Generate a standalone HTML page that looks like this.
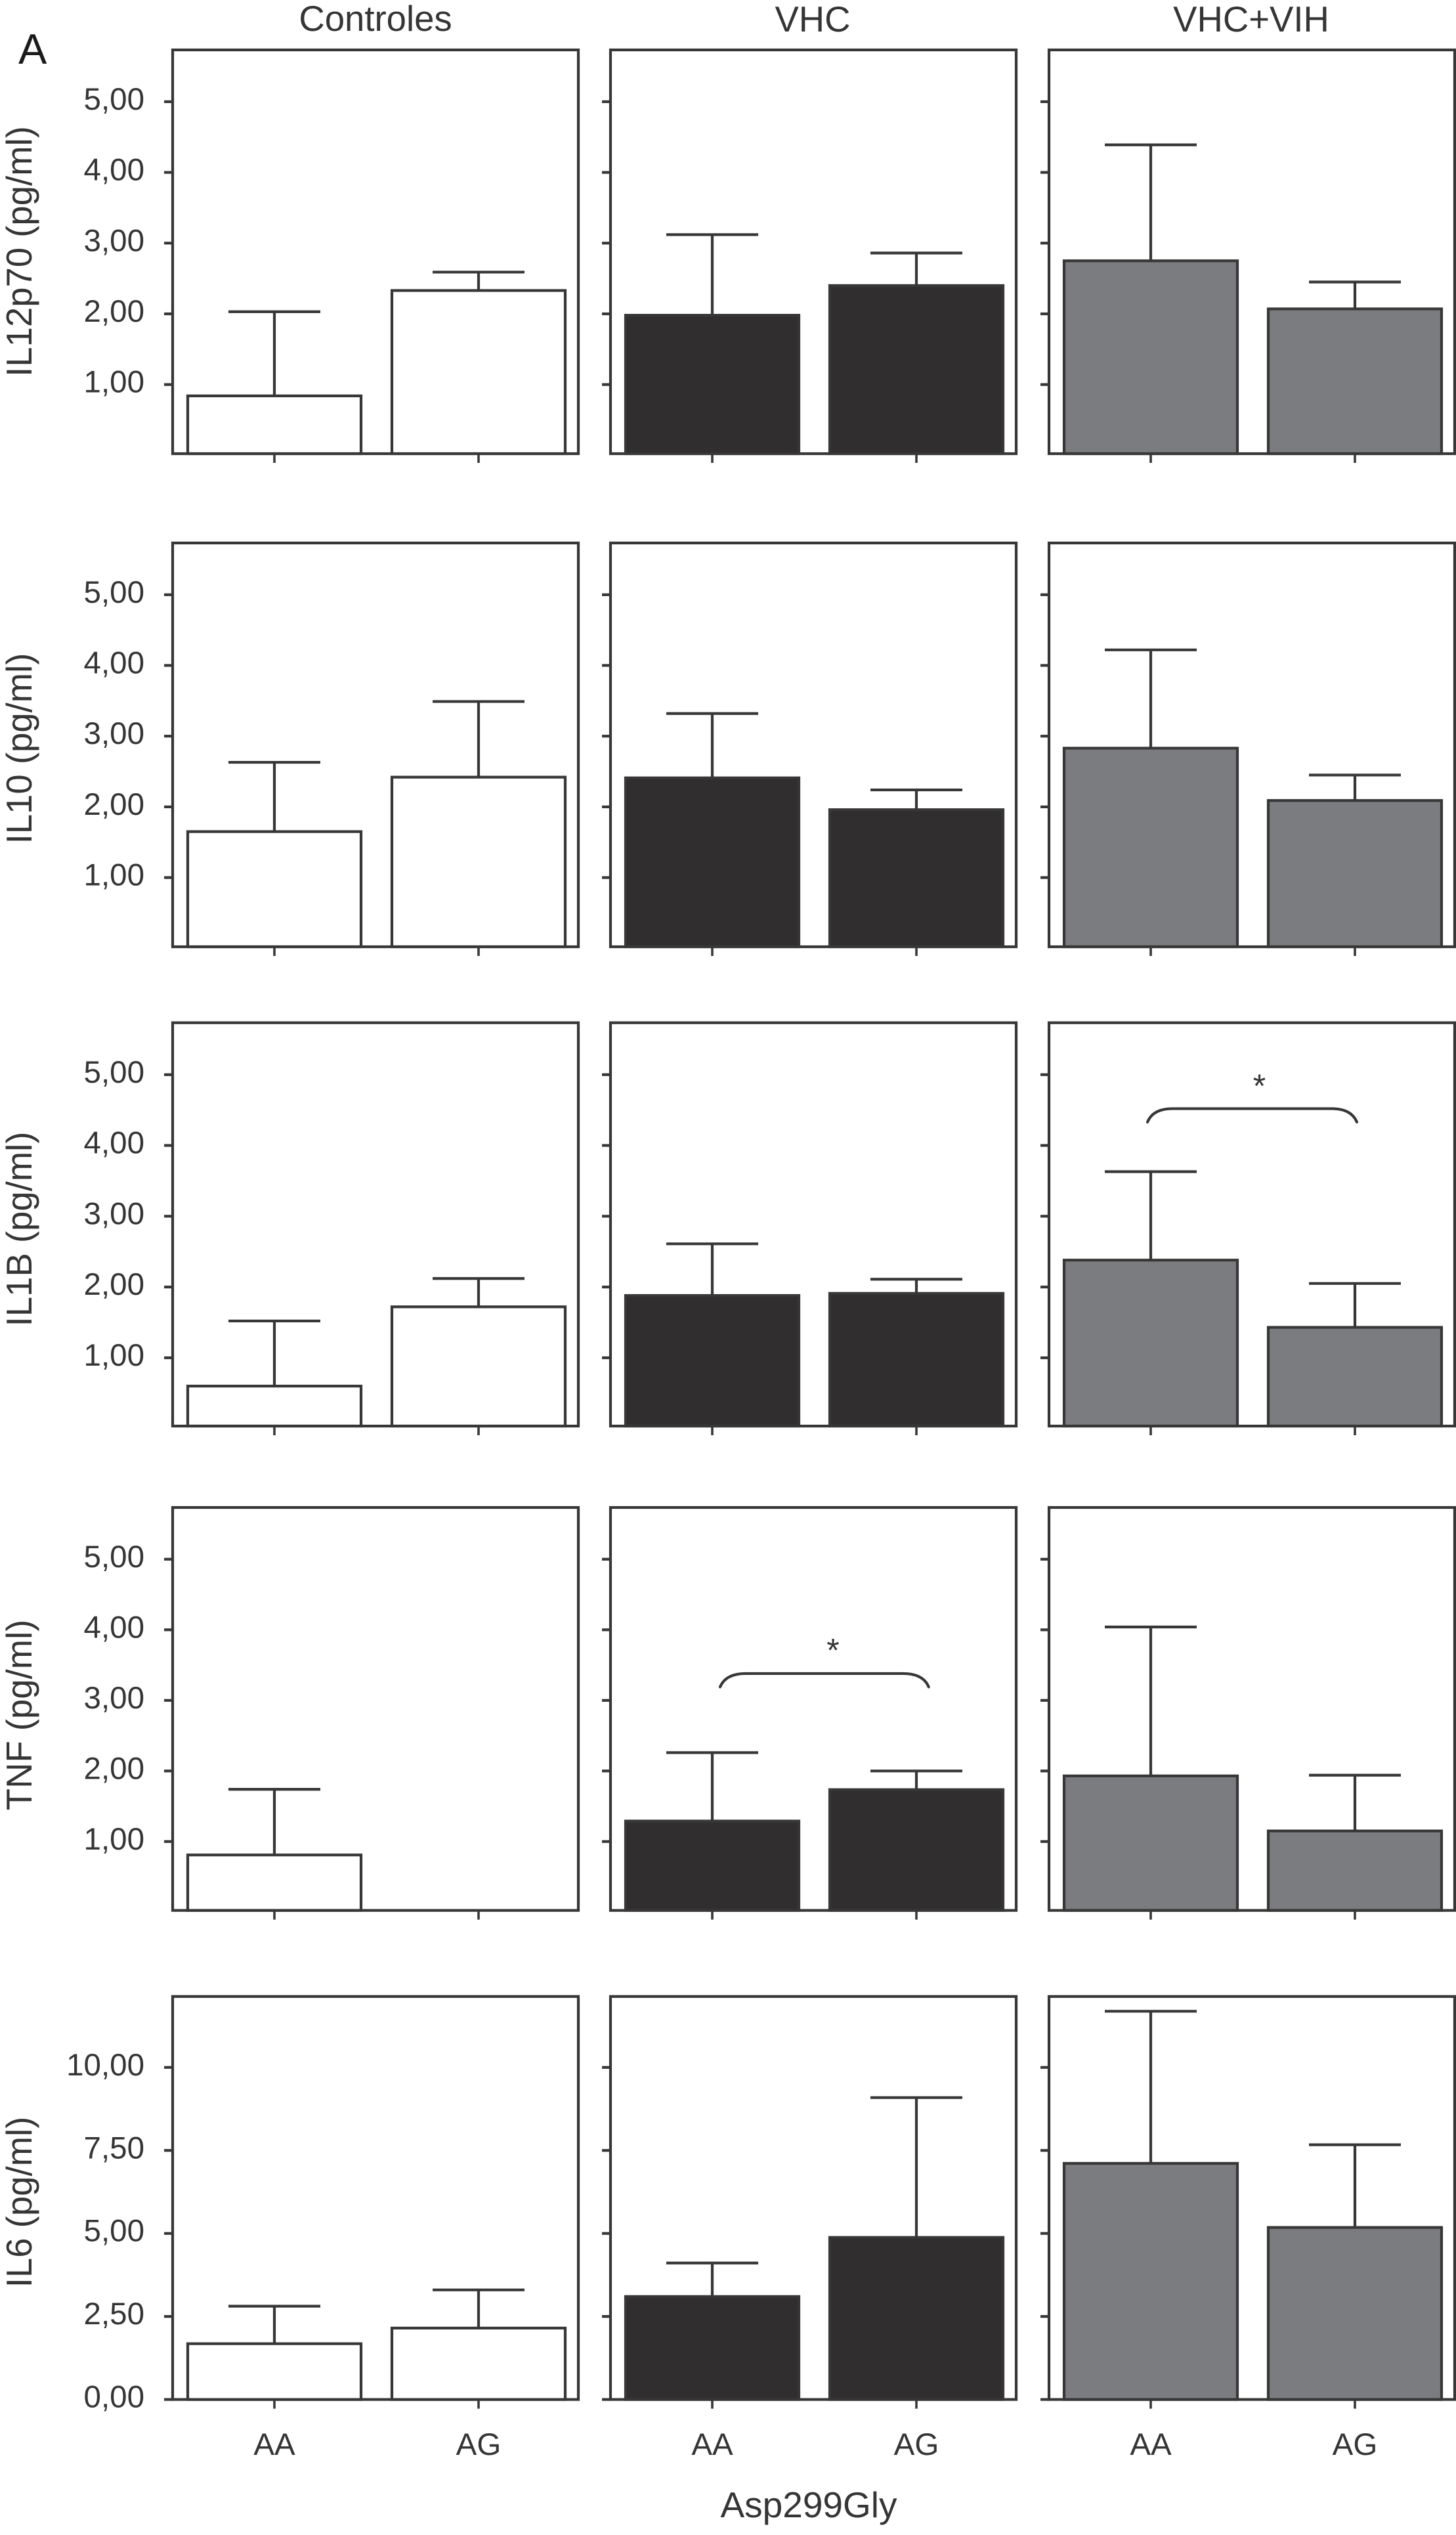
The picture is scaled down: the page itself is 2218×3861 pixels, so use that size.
<!DOCTYPE html>
<html lang="es">
<head>
<meta charset="utf-8">
<title>Citocinas por genotipo Asp299Gly</title>
<style>
html,body{margin:0;padding:0;background:#fff;}
svg{display:block;}
text{font-family:"Liberation Sans",Arial,sans-serif;fill:#363536;}
</style>
</head>
<body>
<svg id="chart" xmlns="http://www.w3.org/2000/svg" width="2218" height="3861" viewBox="0 0 2218 3861">
  <rect x="0" y="0" width="2218" height="3861" fill="#fff"/>
  <text x="28" y="97" font-size="65" style="fill:#1c1a1b">A</text>
  <text x="572" y="47" font-size="54.5" text-anchor="middle">Controles</text>
  <text x="1238" y="48" font-size="54.5" text-anchor="middle">VHC</text>
  <text x="1906" y="48" font-size="54.5" text-anchor="middle">VHC+VIH</text>
  <text transform="translate(48,383) rotate(-90)" font-size="54.5" text-anchor="middle">IL12p70 (pg/ml)</text>
  <text transform="translate(48,1140) rotate(-90)" font-size="54.5" text-anchor="middle">IL10 (pg/ml)</text>
  <text transform="translate(48,1872) rotate(-90)" font-size="54.5" text-anchor="middle">IL1B (pg/ml)</text>
  <text transform="translate(48,2612) rotate(-90)" font-size="54.5" text-anchor="middle">TNF (pg/ml)</text>
  <text transform="translate(48,3354) rotate(-90)" font-size="54.5" text-anchor="middle">IL6 (pg/ml)</text>
  <text x="1232" y="3834" font-size="55" text-anchor="middle">Asp299Gly</text>
  <g id="panels"></g>
</svg>
<script>
// ---- Data (order: Controles AA, AG; VHC AA, AG; VHC+VIH AA, AG) ----
const groups = ['controles', 'vhc', 'vhc-vih'];
const genotypes = ['AA', 'AG'];

const il12p70Means = [0.84, 2.33, 1.98, 2.40, 2.75, 2.07];
const il12p70Upper = [2.03, 2.59, 3.12, 2.86, 4.39, 2.45];
const il10Means = [1.65, 2.42, 2.41, 1.96, 2.83, 2.09];
const il10Upper = [2.63, 3.49, 3.32, 2.24, 4.22, 2.45];
const il1bMeans = [0.60, 1.72, 1.88, 1.91, 2.38, 1.43];
const il1bUpper = [1.52, 2.12, 2.61, 2.11, 3.63, 2.05];
const tnfMeans = [0.81, 0, 1.29, 1.735, 1.93, 1.15];
const tnfUpper = [1.74, 0, 2.26, 2.00, 4.04, 1.94];
const il6Means = [1.68, 2.15, 3.10, 4.88, 7.11, 5.18];
const il6Upper = [2.81, 3.30, 4.11, 9.09, 11.69, 7.67];

const pgTickValues = [1, 2, 3, 4, 5];
const pgTickLabels = ['1,00', '2,00', '3,00', '4,00', '5,00'];
const il6TickValues = [0, 2.5, 5, 7.5, 10];
const il6TickLabels = ['0,00', '2,50', '5,00', '7,50', '10,00'];

// ---- Layout ----
const STROKE = '#383737';
const SW = 4.2;
const FILLS = ['#ffffff', '#302e2f', '#7b7c7f'];
const COL_LEFT = [263, 930, 1598];
const COL_WIDTH = 618;
const BAR_LEFT = [23, 334];
const BAR_CENTER = [155, 466];
const BAR_W = 264;
const CAP_HALF = 70;

const svgNS = 'http://www.w3.org/2000/svg';
const root = document.getElementById('panels');

function mk(tag, attrs, parent) {
  const el = document.createElementNS(svgNS, tag);
  for (const k in attrs) el.setAttribute(k, attrs[k]);
  parent.appendChild(el);
  return el;
}

function makeAxis(tickRefValue, tickRefY, pxPerUnit) {
  return function (v) { return tickRefY - (v - tickRefValue) * pxPerUnit; };
}

function drawPanel(cfg, colIdx) {
  const x0 = COL_LEFT[colIdx];
  const g = mk('g', {}, root);
  
  

  // bars and error bars
  genotypes.forEach(function (gt, i) {
    const idx = colIdx * 2 + i;
    const mean = cfg.means[idx];
    const upper = cfg.upper[idx];
    const cx = x0 + BAR_CENTER[i];
    if (mean > 0) {
      const yTop = cfg.y(mean);
      const yUp = cfg.y(upper);
      const stem = mk('line', {x1: cx, x2: cx, y1: yTop, y2: yUp, stroke: STROKE, 'stroke-width': SW}, g);
      
      
      const cap = mk('line', {x1: cx - CAP_HALF, x2: cx + CAP_HALF, y1: yUp, y2: yUp, stroke: STROKE, 'stroke-width': SW}, g);
      
      
      const bar = mk('rect', {x: x0 + BAR_LEFT[i], y: yTop, width: BAR_W, height: Math.max(0, cfg.bottom - yTop),
        fill: FILLS[colIdx], stroke: STROKE, 'stroke-width': SW}, g);
      
      
    }
    // x tick
    const xt = mk('line', {x1: cx, x2: cx, y1: cfg.bottom, y2: cfg.bottom + 14, stroke: STROKE, 'stroke-width': 3.6}, g);
    
    
    if (cfg.showX) {
      const lab = mk('text', {x: cx, y: 3739, 'font-size': 47.5, 'text-anchor': 'middle'}, g);
      lab.textContent = gt;
      
      
    }
  });

  // y ticks
  cfg.tickValues.forEach(function (v, i) {
    const yy = cfg.y(v);
    const t = mk('line', {x1: x0 - 13, x2: x0, y1: yy, y2: yy, stroke: STROKE, 'stroke-width': SW}, g);
    
    
    if (colIdx === 0) {
      const lab = mk('text', {x: 220, y: yy + 12, 'font-size': 47.5, 'text-anchor': 'end'}, g);
      lab.textContent = cfg.tickLabels[i];
      
      
    }
  });

  // frame
  const frame = mk('rect', {x: x0, y: cfg.top, width: COL_WIDTH, height: cfg.bottom - cfg.top,
    fill: 'none', stroke: STROKE, 'stroke-width': SW}, g);
  
  
  return g;
}

function drawBrace(cfg, xl, xr, inset, vTop, vEnd, starX, vStar) {
  const yT = cfg.y(vTop), yE = cfg.y(vEnd);
  const p = mk('path', {
    d: 'M' + xl + ' ' + yE + ' C' + (xl + 6) + ' ' + (yT + 6) + ' ' + (xl + inset * 0.5) + ' ' + yT + ' ' + (xl + inset) + ' ' + yT +
       ' L' + (xr - inset) + ' ' + yT + ' C' + (xr - inset * 0.5) + ' ' + yT + ' ' + (xr - 6) + ' ' + (yT + 6) + ' ' + xr + ' ' + yE,
    fill: 'none', stroke: STROKE, 'stroke-width': SW, 'stroke-linecap': 'round'}, root);
  
  
  const s = mk('text', {x: starX, y: cfg.y(vStar) + 29, 'font-size': 50, 'text-anchor': 'middle'}, root);
  s.textContent = '*';
  
  
}

const rowIL12 = {name: 'il12p70', top: 76, bottom: 691, y: makeAxis(1, 585.7, 107.7), means: il12p70Means, upper: il12p70Upper, tickValues: pgTickValues, tickLabels: pgTickLabels, showX: false};
const rowIL10 = {name: 'il10', top: 827, bottom: 1442, y: makeAxis(1, 1336.6, 107.7), means: il10Means, upper: il10Upper, tickValues: pgTickValues, tickLabels: pgTickLabels, showX: false};
const rowIL1B = {name: 'il1b', top: 1557.7, bottom: 2172, y: makeAxis(1, 2068, 107.8), means: il1bMeans, upper: il1bUpper, tickValues: pgTickValues, tickLabels: pgTickLabels, showX: false};
const rowTNF = {name: 'tnf', top: 2296, bottom: 2909.7, y: makeAxis(1, 2804.8, 107.5), means: tnfMeans, upper: tnfUpper, tickValues: pgTickValues, tickLabels: pgTickLabels, showX: false};
const rowIL6 = {name: 'il6', top: 3040.8, bottom: 3654.6, y: makeAxis(0, 3654.6, 50.58), means: il6Means, upper: il6Upper, tickValues: il6TickValues, tickLabels: il6TickLabels, showX: true};

[rowIL12, rowIL10, rowIL1B, rowTNF, rowIL6].forEach(function (cfg) {
  groups.forEach(function (grp, c) { drawPanel(cfg, c); });
});

drawBrace(rowIL1B, 1748, 2067, 38, 4.52, 4.33, 1918.5, 4.95);
drawBrace(rowTNF, 1097, 1414.7, 39, 3.38, 3.19, 1269, 3.82);
</script>
</body>
</html>
